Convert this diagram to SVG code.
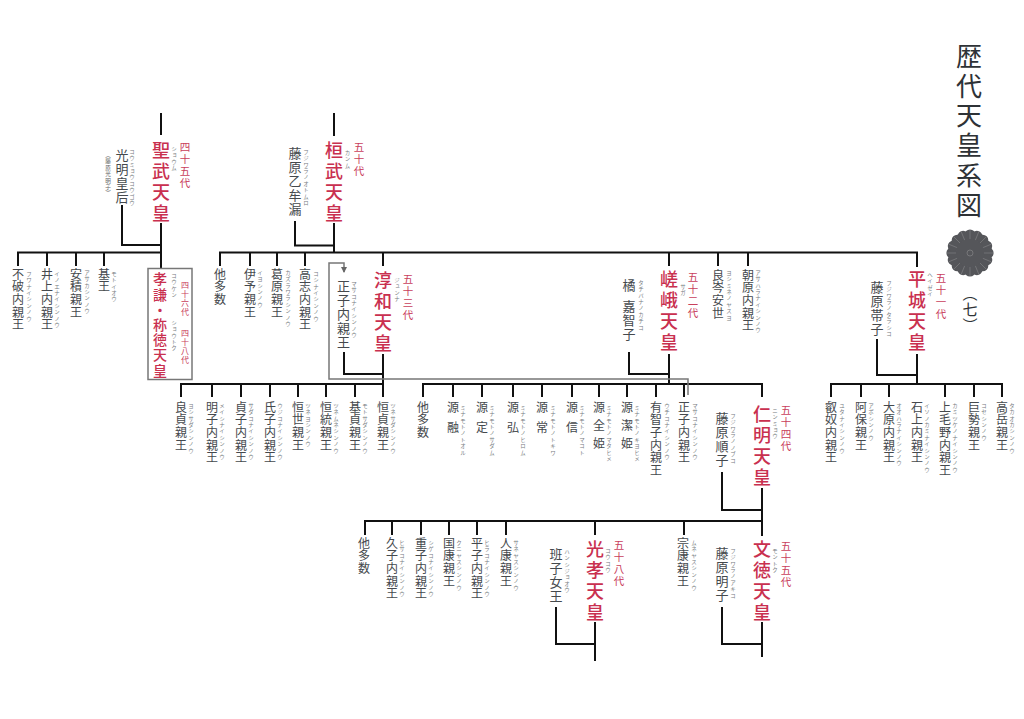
<svg xmlns="http://www.w3.org/2000/svg" xmlns:xlink="http://www.w3.org/1999/xlink" width="1024" height="719" viewBox="0 0 1024 719">
<style>
text{writing-mode:vertical-rl;text-orientation:upright;font-family:"Noto Sans CJK JP","Noto Sans CJK SC",sans-serif}
.n{font-size:12px;letter-spacing:.7px;fill:#45494d}
.m{font-size:13px;letter-spacing:1px;fill:#45494d}
.e{font-size:18px;letter-spacing:3px;fill:#c9304f;font-weight:500}
.g{font-size:10.5px;letter-spacing:1.4px;fill:#c9405c}
.k{font-size:5.5px;letter-spacing:.9px;fill:#777b80}
.t{font-size:26px;letter-spacing:3.8px;fill:#2e3236;font-weight:400}
.c{fill:none;stroke:#111;stroke-width:2}
.b{fill:none;stroke:#777;stroke-width:1.5}
</style>
<defs>
<marker id="ah" viewBox="0 0 6 6" refX="5" refY="3" markerWidth="4" markerHeight="4" orient="auto"><path d="M0 0L6 3L0 6Z" fill="#666"/></marker>
<g id="petal"><circle cx="0" cy="-18" r="5.6" fill="#55565a"/><path d="M0 -23L0 -3" stroke="#9a9a9c" stroke-width=".4"/></g>
</defs>
<rect width="1024" height="719" fill="#fff"/>
<g id="connectors">
<path class="c" d="M161 113V135M161 223V268M122 205V245H161M18 266V252.5H161M47 252.5V266M76 252.5V266M104 252.5V266"/>
<path class="c" d="M334 113V136M334 223V252.5M295 221V245.5H334M220 266V252.5H917V267M250 252.5V266M277 252.5V266M305 252.5V266M383 252.5V266M669 252.5V266M718 252.5V266M748 252.5V266"/>
<path class="c" d="M383 354V397M344 352V374H383M181 397V384H383M212 384V397M241 384V397M270 384V397M298 384V397M326 384V397M355 384V397"/>
<path class="c" d="M669 354V384M629 352V374H669M423 397V384H763M453 384V397M482 384V397M513 384V397M542 384V397M572 384V397M599 384V397M627 384V397M656 384V397M684 384V397M762 384V397"/>
<path class="c" d="M917 354V384M877 339V375H917M831 397V384H1002V397M861 384V397M889 384V397M945 384V397M974 384V397"/>
<path class="c" d="M762 488V536M722 472V510H762M365 535V521H762M392 521V535M421 521V535M449 521V535M477 521V535M506 521V535M595 521V535M684 521V535"/>
<path class="c" d="M595 622V661M556 607V644H595M762 622V657M722 607V644H762"/>
<path class="b" d="M688 395V379H329V263H344V272" marker-end="url(#ah)"/>
</g>
<g id="title"><text class="t" x="969" y="43">歴代天皇系図</text></g>
<g id="crest"><use xlink:href="#petal" transform="translate(970 253)"/><use xlink:href="#petal" transform="translate(970 253) rotate(22.5)"/><use xlink:href="#petal" transform="translate(970 253) rotate(45)"/><use xlink:href="#petal" transform="translate(970 253) rotate(67.5)"/><use xlink:href="#petal" transform="translate(970 253) rotate(90)"/><use xlink:href="#petal" transform="translate(970 253) rotate(112.5)"/><use xlink:href="#petal" transform="translate(970 253) rotate(135)"/><use xlink:href="#petal" transform="translate(970 253) rotate(157.5)"/><use xlink:href="#petal" transform="translate(970 253) rotate(180)"/><use xlink:href="#petal" transform="translate(970 253) rotate(202.5)"/><use xlink:href="#petal" transform="translate(970 253) rotate(225)"/><use xlink:href="#petal" transform="translate(970 253) rotate(247.5)"/><use xlink:href="#petal" transform="translate(970 253) rotate(270)"/><use xlink:href="#petal" transform="translate(970 253) rotate(292.5)"/><use xlink:href="#petal" transform="translate(970 253) rotate(315)"/><use xlink:href="#petal" transform="translate(970 253) rotate(337.5)"/><circle cx="970" cy="253" r="14" fill="#55565a"/><circle cx="970" cy="253" r="3" fill="#55565a" stroke="#aaa" stroke-width=".4"/></g>
<g id="volume"><text x="970" y="286" style="font-size:15px;letter-spacing:1px;fill:#2e3236">（七）</text></g>

<g id="shomu"><text class="e" x="161" y="141">聖武天皇</text><text class="k" x="174" y="146">ショウム</text><text class="g" x="185" y="142">四十五代</text></g>
<g id="komyo"><text class="m" x="122" y="149">光明皇后</text><text class="k" x="132" y="149">コウミョウコウゴウ</text><text x="108" y="152" style="font-size:5.6px;fill:#666;letter-spacing:.8px">（藤原光明子）</text></g>
<g id="fuwa"><text class="n" x="18" y="268">不破内親王</text><text class="k" x="29" y="271">フワナイシンノウ</text></g>
<g id="inoe"><text class="n" x="47" y="268">井上内親王</text><text class="k" x="57" y="271">イノエナイシンノウ</text></g>
<g id="asaka"><text class="n" x="76" y="268">安積親王</text><text class="k" x="87" y="270">アサカシンノウ</text></g>
<g id="motoi"><text class="n" x="104" y="268">基王</text><text class="k" x="114" y="271">モトイオウ</text></g>
<g id="koken"><rect class="b" x="148" y="268.5" width="44" height="111" fill="#fff"/><text x="160" y="272" style="font-size:14px;letter-spacing:1.2px;fill:#c9304f;font-weight:500">孝謙・称徳天皇</text><text class="k" x="174" y="273">コウケン</text><text class="k" x="174" y="320">ショウトク</text><text x="185" y="281" style="font-size:8px;letter-spacing:1px;fill:#c9405c">四十六代</text><text x="185" y="329" style="font-size:8px;letter-spacing:1px;fill:#c9405c">四十八代</text></g>

<g id="kanmu"><text class="e" x="334" y="141">桓武天皇</text><text class="k" x="347.5" y="150">カンム</text><text class="g" x="359" y="142">五十代</text></g>
<g id="otomuro"><text class="m" x="295" y="147">藤原乙牟漏</text><text class="k" x="306" y="149">フジワラノオトムロ</text></g>
<g id="tata"><text class="n" x="220" y="268">他多数</text></g>
<g id="iyo"><text class="n" x="250" y="268">伊予親王</text><text class="k" x="260" y="270">イヨシンノウ</text></g>
<g id="kazurawara"><text class="n" x="277" y="268">葛原親王</text><text class="k" x="288" y="270">カズラワラシンノウ</text></g>
<g id="koshi"><text class="n" x="305" y="268">高志内親王</text><text class="k" x="316" y="271">コシナイシンノウ</text></g>
<g id="masako1"><text class="m" x="343.5" y="280">正子内親王</text><text class="k" x="354" y="281">マサコナイシンノウ</text></g>
<g id="junna"><text class="e" x="383" y="271">淳和天皇</text><text class="k" x="397" y="277">ジュンナ</text><text class="g" x="408" y="274">五十三代</text></g>
<g id="saga"><text class="e" x="669" y="270">嵯峨天皇</text><text class="k" x="683" y="284">サガ</text><text class="g" x="693" y="272">五十二代</text></g>
<g id="kachiko"><text class="m" x="629" y="279">橘</text><text class="m" x="629" y="300">嘉智子</text><text class="k" x="641" y="280">タチバナノカチコ</text></g>
<g id="yoshimine"><text class="n" x="718" y="269">良岑安世</text><text class="k" x="729" y="270">ヨシミネノヤスヨ</text></g>
<g id="asahara"><text class="n" x="748" y="269">朝原内親王</text><text class="k" x="758" y="270">アサハラナイシンノウ</text></g>
<g id="heizei"><text class="e" x="917" y="270">平城天皇</text><text class="k" x="930" y="272">ヘイゼイ</text><text class="g" x="941" y="273">五十一代</text></g>
<g id="tarashiko"><text class="m" x="877" y="281">藤原帯子</text><text class="k" x="889" y="280">フジワラノタラシコ</text></g>

<g id="yoshisada"><text class="n" x="181" y="401">良貞親王</text><text class="k" x="191" y="403">ヨシサダシンノウ</text></g>
<g id="meishi"><text class="n" x="212" y="401">明子内親王</text><text class="k" x="222" y="403">メイシナイシンノウ</text></g>
<g id="sadako"><text class="n" x="241" y="401">貞子内親王</text><text class="k" x="251" y="403">サダコナイシンノウ</text></g>
<g id="ujiko"><text class="n" x="270" y="401">氏子内親王</text><text class="k" x="280" y="403">ウジコナイシンノウ</text></g>
<g id="tsuneyo"><text class="n" x="298" y="401">恒世親王</text><text class="k" x="308" y="403">ツネヨシンノウ</text></g>
<g id="tsunemune"><text class="n" x="326" y="401">恒統親王</text><text class="k" x="336" y="403">ツネムネシンノウ</text></g>
<g id="motosada"><text class="n" x="355" y="401">基貞親王</text><text class="k" x="365" y="403">モトサダシンノウ</text></g>
<g id="tsunesada"><text class="n" x="383" y="401">恒貞親王</text><text class="k" x="393" y="403">ツネサダシンノウ</text></g>

<g id="tata2"><text class="n" x="423" y="401">他多数</text></g>
<g id="toru"><text class="n" x="453" y="401" style="letter-spacing:8px">源融</text><text class="k" x="463" y="405">ミナモトノトオル</text></g>
<g id="sadamu"><text class="n" x="482" y="401" style="letter-spacing:8px">源定</text><text class="k" x="492" y="405">ミナモトノサダム</text></g>
<g id="hiromu"><text class="n" x="513" y="401" style="letter-spacing:8px">源弘</text><text class="k" x="523" y="405">ミナモトノヒロム</text></g>
<g id="tokiwa"><text class="n" x="542" y="401" style="letter-spacing:8px">源常</text><text class="k" x="553" y="405">ミナモトノトキワ</text></g>
<g id="makoto"><text class="n" x="572" y="401" style="letter-spacing:8px">源信</text><text class="k" x="582" y="405">ミナモトノマコト</text></g>
<g id="matahime"><text class="n" x="599" y="401" style="letter-spacing:6px">源全姫</text><text class="k" x="609" y="405">ミナモトノマタヒメ</text></g>
<g id="kiyohime"><text class="n" x="627" y="401" style="letter-spacing:6px">源潔姫</text><text class="k" x="637" y="405">ミナモトノキヨヒメ</text></g>
<g id="uchiko"><text class="n" x="656" y="401">有智子内親王</text><text class="k" x="667" y="403">ウチコナイシンノウ</text></g>
<g id="masako2"><text class="n" x="684" y="401">正子内親王</text><text class="k" x="695" y="403">マサコナイシンノウ</text></g>
<g id="ninmyo"><text class="e" x="762" y="405">仁明天皇</text><text class="k" x="775" y="408">ニンミョウ</text><text class="g" x="786" y="405">五十四代</text></g>
<g id="junshi"><text class="m" x="722" y="412">藤原順子</text><text class="k" x="733" y="413">フジワラノノブコ</text></g>

<g id="atsumi"><text class="n" x="831" y="401">叡奴内親王</text><text class="k" x="842" y="403">ユタナイシンノウ</text></g>
<g id="abo"><text class="n" x="861" y="401">阿保親王</text><text class="k" x="871" y="403">アボシンノウ</text></g>
<g id="ohara"><text class="n" x="889" y="401">大原内親王</text><text class="k" x="899" y="403">オオハラナイシンノウ</text></g>
<g id="isonokami"><text class="n" x="917" y="401">石上内親王</text><text class="k" x="927" y="403">イソノカミナイシンノウ</text></g>
<g id="kamitsuke"><text class="n" x="945" y="401">上毛野内親王</text><text class="k" x="955" y="403">カミツケノナイシンノウ</text></g>
<g id="kose"><text class="n" x="974" y="401">巨勢親王</text><text class="k" x="984" y="403">コセシンノウ</text></g>
<g id="takaoka"><text class="n" x="1002" y="401">高岳親王</text><text class="k" x="1012" y="403">タカオカシンノウ</text></g>

<g id="tata3"><text class="n" x="364" y="537">他多数</text></g>
<g id="hisako"><text class="n" x="392" y="537">久子内親王</text><text class="k" x="402" y="540">ヒサコナイシンノウ</text></g>
<g id="shigeko"><text class="n" x="421" y="537">重子内親王</text><text class="k" x="431" y="540">シゲコナイシンノウ</text></g>
<g id="kuniyasu"><text class="n" x="449" y="537">国康親王</text><text class="k" x="459" y="540">クニヤスシンノウ</text></g>
<g id="hirako"><text class="n" x="477" y="537">平子内親王</text><text class="k" x="487" y="540">ヒラコナイシンノウ</text></g>
<g id="saneyasu"><text class="n" x="506" y="537">人康親王</text><text class="k" x="516" y="540">サネヤスシンノウ</text></g>
<g id="hanshi"><text class="m" x="556" y="548">班子女王</text><text class="k" x="567" y="549">ハンシジョオウ</text></g>
<g id="koko"><text class="e" x="595" y="540">光孝天皇</text><text class="k" x="608" y="548">コウコウ</text><text class="g" x="619" y="540">五十八代</text></g>
<g id="muneyasu"><text class="n" x="683" y="537">宗康親王</text><text class="k" x="694" y="540">ムネヤスシンノウ</text></g>
<g id="akirakeiko"><text class="m" x="722" y="547">藤原明子</text><text class="k" x="733" y="548">フジワラノアキコ</text></g>
<g id="montoku"><text class="e" x="762" y="540">文徳天皇</text><text class="k" x="775" y="548">モントク</text><text class="g" x="786" y="541">五十五代</text></g>
</svg>
